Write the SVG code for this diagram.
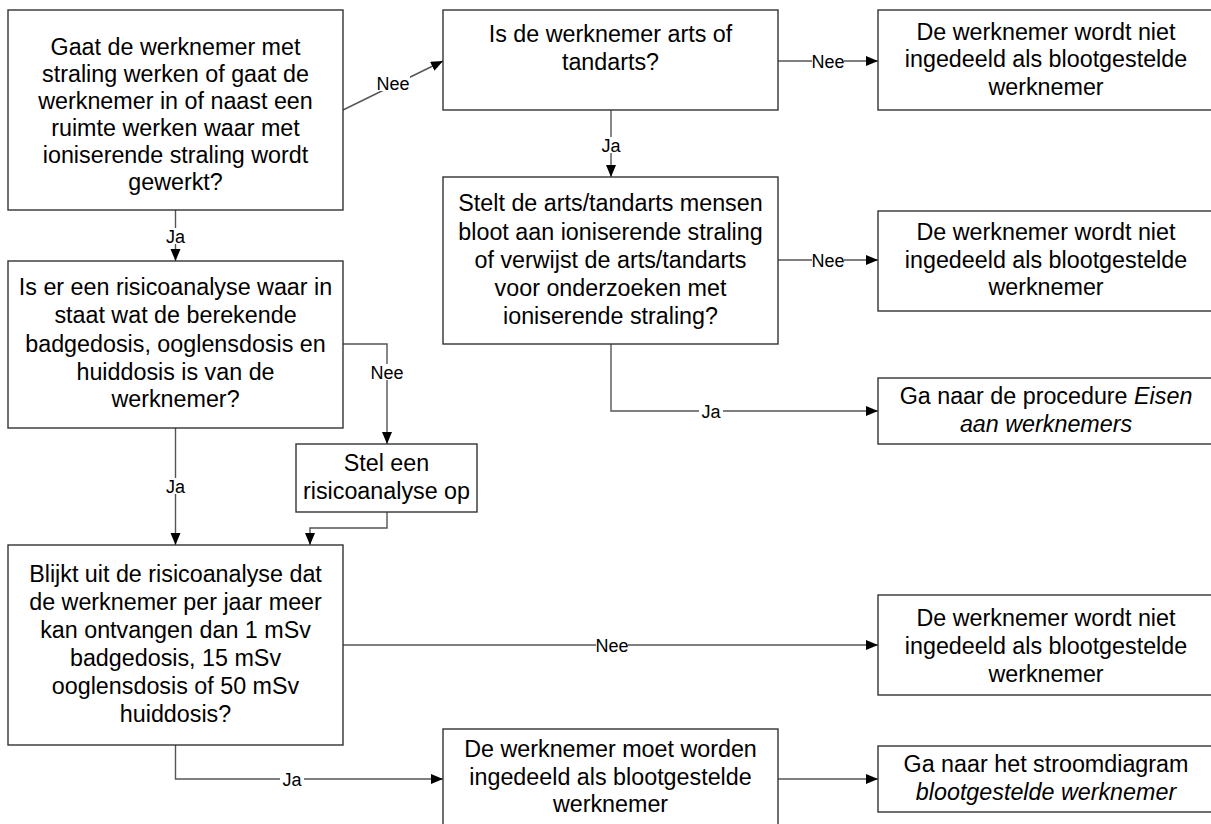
<svg xmlns="http://www.w3.org/2000/svg" width="1211" height="824" viewBox="0 0 1211 824">
<style>
.box{fill:#fff;stroke:#333;stroke-width:1.4}
.t{font-family:"Liberation Sans",Arial,sans-serif;font-size:23.3px;fill:#000;text-anchor:middle}
.i{font-style:italic}
.c{fill:none;stroke:#555;stroke-width:1.4}
.lb{font-family:"Liberation Sans",Arial,sans-serif;font-size:18px;fill:#000;text-anchor:middle}
.bg{fill:#fff;stroke:none}
</style>
<defs>
<marker id="ah" markerUnits="userSpaceOnUse" markerWidth="13" markerHeight="11" refX="12" refY="5" orient="auto">
<path d="M0,0 L12,5 L0,10 z" fill="#000"/>
</marker>
</defs>
<rect width="1211" height="824" fill="#fff"/>
<g id="connectors">
<path class="c" d="M343,110 L443,61" marker-end="url(#ah)"/>
<path class="c" d="M778,61 L878,61" marker-end="url(#ah)"/>
<path class="c" d="M611,110 L611,177" marker-end="url(#ah)"/>
<path class="c" d="M778,260 L878,260" marker-end="url(#ah)"/>
<path class="c" d="M611,344 L611,411 L878,411" marker-end="url(#ah)"/>
<path class="c" d="M175.5,210 L175.5,261" marker-end="url(#ah)"/>
<path class="c" d="M343,344 L387,344 L387,444" marker-end="url(#ah)"/>
<path class="c" d="M175.5,428 L175.5,545" marker-end="url(#ah)"/>
<path class="c" d="M387,512 L387,528 L310,528 L310,545" marker-end="url(#ah)"/>
<path class="c" d="M343,645 L878,645" marker-end="url(#ah)"/>
<path class="c" d="M175.5,745 L175.5,779 L443,779" marker-end="url(#ah)"/>
<path class="c" d="M778,779 L878,779" marker-end="url(#ah)"/>
<rect class="bg" x="376" y="75" width="34" height="16"/>
<text class="lb" x="393" y="89.5">Nee</text>
<rect class="bg" x="812" y="53" width="32" height="15"/>
<text class="lb" x="828" y="67.5">Nee</text>
<rect class="bg" x="599" y="137" width="24" height="16"/>
<text class="lb" x="611" y="151.5">Ja</text>
<rect class="bg" x="812" y="252" width="32" height="15"/>
<text class="lb" x="828" y="266.5">Nee</text>
<rect class="bg" x="699" y="403" width="24" height="15"/>
<text class="lb" x="711" y="417.5">Ja</text>
<rect class="bg" x="164" y="228" width="24" height="16"/>
<text class="lb" x="175.5" y="242.5">Ja</text>
<rect class="bg" x="370" y="364" width="34" height="16"/>
<text class="lb" x="387" y="378.5">Nee</text>
<rect class="bg" x="164" y="478" width="24" height="16"/>
<text class="lb" x="175.5" y="492.5">Ja</text>
<rect class="bg" x="596" y="637" width="32" height="15"/>
<text class="lb" x="612" y="651.5">Nee</text>
<rect class="bg" x="280" y="771" width="24" height="15"/>
<text class="lb" x="292" y="785.5">Ja</text>
</g>
<g id="n1">
<rect class="box" x="8" y="10" width="335" height="200"/>
<text class="t" x="175.5" y="55">Gaat de werknemer met</text>
<text class="t" x="175.5" y="82">straling werken of gaat de</text>
<text class="t" x="175.5" y="109">werknemer in of naast een</text>
<text class="t" x="175.5" y="136">ruimte werken waar met</text>
<text class="t" x="175.5" y="163">ioniserende straling wordt</text>
<text class="t" x="175.5" y="190">gewerkt?</text>
</g>
<g id="n2">
<rect class="box" x="443" y="10" width="335" height="100"/>
<text class="t" x="610.5" y="42">Is de werknemer arts of</text>
<text class="t" x="610.5" y="70">tandarts?</text>
</g>
<g id="n3">
<rect class="box" x="878" y="10" width="336" height="100"/>
<text class="t" x="1046" y="39.5">De werknemer wordt niet</text>
<text class="t" x="1046" y="67">ingedeeld als blootgestelde</text>
<text class="t" x="1046" y="94.5">werknemer</text>
</g>
<g id="n4">
<rect class="box" x="443" y="177" width="335" height="167"/>
<text class="t" x="610.5" y="211">Stelt de arts/tandarts mensen</text>
<text class="t" x="610.5" y="239.5">bloot aan ioniserende straling</text>
<text class="t" x="610.5" y="267.5">of verwijst de arts/tandarts</text>
<text class="t" x="610.5" y="296">voor onderzoeken met</text>
<text class="t" x="610.5" y="324">ioniserende straling?</text>
</g>
<g id="n5">
<rect class="box" x="878" y="211" width="336" height="100"/>
<text class="t" x="1046" y="240">De werknemer wordt niet</text>
<text class="t" x="1046" y="267.5">ingedeeld als blootgestelde</text>
<text class="t" x="1046" y="295">werknemer</text>
</g>
<g id="n6">
<rect class="box" x="878" y="378" width="336" height="66"/>
<text class="t" x="1046" y="403.5">Ga naar de procedure <tspan class="i">Eisen</tspan></text>
<text class="t i" x="1046" y="431.5">aan werknemers</text>
</g>
<g id="n7">
<rect class="box" x="8" y="261" width="335" height="167"/>
<text class="t" x="175.5" y="295">Is er een risicoanalyse waar in</text>
<text class="t" x="175.5" y="323">staat wat de berekende</text>
<text class="t" x="175.5" y="351.5">badgedosis, ooglensdosis en</text>
<text class="t" x="175.5" y="379.5">huiddosis is van de</text>
<text class="t" x="175.5" y="407">werknemer?</text>
</g>
<g id="n8">
<rect class="box" x="296" y="444" width="181" height="68"/>
<text class="t" x="386.5" y="471">Stel een</text>
<text class="t" x="386.5" y="498.5">risicoanalyse op</text>
</g>
<g id="n9">
<rect class="box" x="8" y="545" width="335" height="200"/>
<text class="t" x="175.5" y="582">Blijkt uit de risicoanalyse dat</text>
<text class="t" x="175.5" y="610">de werknemer per jaar meer</text>
<text class="t" x="175.5" y="638">kan ontvangen dan 1 mSv</text>
<text class="t" x="175.5" y="666">badgedosis, 15 mSv</text>
<text class="t" x="175.5" y="694">ooglensdosis of 50 mSv</text>
<text class="t" x="175.5" y="722">huiddosis?</text>
</g>
<g id="n10">
<rect class="box" x="878" y="595" width="336" height="100"/>
<text class="t" x="1046" y="626">De werknemer wordt niet</text>
<text class="t" x="1046" y="654">ingedeeld als blootgestelde</text>
<text class="t" x="1046" y="681.5">werknemer</text>
</g>
<g id="n11">
<rect class="box" x="443" y="729" width="335" height="110"/>
<text class="t" x="610.5" y="757">De werknemer moet worden</text>
<text class="t" x="610.5" y="784.5">ingedeeld als blootgestelde</text>
<text class="t" x="610.5" y="811.5">werknemer</text>
</g>
<g id="n12">
<rect class="box" x="878" y="746" width="336" height="66"/>
<text class="t" x="1046" y="771.5">Ga naar het stroomdiagram</text>
<text class="t i" x="1046" y="800">blootgestelde werknemer</text>
</g>
</svg>
